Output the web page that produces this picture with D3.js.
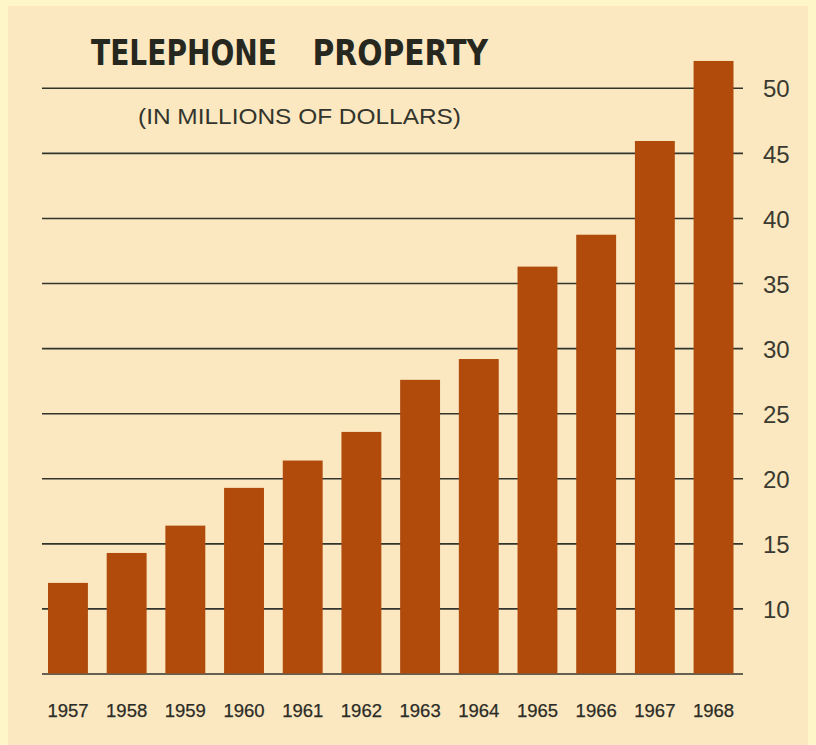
<!DOCTYPE html>
<html>
<head>
<meta charset="utf-8">
<script src="https://cdn.jsdelivr.net/npm/d3@7"></script>
<style>
  html, body { margin: 0; padding: 0; background: #fef5c9; }
  svg { display: block; }
</style>
</head>
<body>
<script>
const years = ["1957","1958","1959","1960","1961","1962","1963","1964","1965","1966","1967","1968"];
const values = [12.0, 14.3, 16.4, 19.3, 21.4, 23.6, 27.6, 29.2, 36.3, 38.75, 45.95, 52.1];
const tickValues = [10, 15, 20, 25, 30, 35, 40, 45, 50];
const baselineValue = 5;
const titleWords = ["TELEPHONE", "PROPERTY"];
const subtitle = "(IN MILLIONS OF DOLLARS)";

const W = 816, H = 745;
const svg = d3.select("body").append("svg").attr("width", W).attr("height", H);

// paper
svg.append("rect").attr("width", W).attr("height", H).attr("fill", "#fef5c9");
svg.append("rect").attr("x", 8).attr("y", 6).attr("width", 800).attr("height", H - 6).attr("fill", "#fbe8c1");

const x = d3.scaleBand().domain(years).range([48, 733.5]).paddingInner(0.32).paddingOuter(0);
const y = d3.scaleLinear().domain([5, 50]).range([674, 88.3]);

const ink = "#33352c";

// gridlines
svg.append("g").selectAll("line").data(tickValues.concat([baselineValue])).join("line")
  .attr("x1", 42).attr("x2", 743)
  .attr("y1", d => y(d)).attr("y2", d => y(d))
  .attr("stroke", ink).attr("stroke-width", 1.6);

// bars
svg.append("g").selectAll("rect").data(years).join("rect")
  .attr("x", d => x(d))
  .attr("width", x.bandwidth())
  .attr("y", (d, i) => y(values[i]))
  .attr("height", (d, i) => y(baselineValue) - y(values[i]) - 0.5)
  .attr("fill", "#b04b0c");

// right axis labels
const yAxis = d3.axisRight(y).tickValues(tickValues).tickSize(0).tickPadding(0).tickFormat(d3.format("d"));
const ga = svg.append("g").attr("transform", "translate(763,0)").call(yAxis);
ga.select(".domain").remove();
ga.selectAll("text")
  .attr("font-family", "'Liberation Sans', Arial, sans-serif")
  .attr("font-size", 24)
  .attr("fill", "#3a3a30")
  .attr("dy", "0.36em");

// x axis labels
const xAxis = d3.axisBottom(x).tickSize(0).tickPadding(0);
const gx = svg.append("g").attr("transform", "translate(0,710)").call(xAxis);
gx.select(".domain").remove();
gx.selectAll("text")
  .attr("font-family", "'Liberation Sans', Arial, sans-serif")
  .attr("font-size", 18.5)
  .attr("fill", "#2c2c26")
  .attr("stroke", "#2c2c26").attr("stroke-width", 0.25)
  .attr("dy", "0.36em");

// title
const titlePos = [{x: 91, w: 186}, {x: 312.5, w: 175.5}];
svg.append("g").selectAll("text").data(titleWords).join("text")
  .attr("x", (d, i) => titlePos[i].x)
  .attr("y", 65)
  .attr("textLength", (d, i) => titlePos[i].w)
  .attr("lengthAdjust", "spacingAndGlyphs")
  .attr("font-family", "'DejaVu Sans', sans-serif")
  .attr("font-weight", "bold")
  .attr("font-size", 36)
  .attr("fill", "#26281f")
  .text(d => d);

// subtitle
svg.append("text")
  .attr("x", 138).attr("y", 124)
  .attr("textLength", 323)
  .attr("lengthAdjust", "spacingAndGlyphs")
  .attr("font-family", "'Liberation Sans', Arial, sans-serif")
  .attr("font-size", 22)
  .attr("fill", "#33352c")
  .text(subtitle);
</script>
</body>
</html>
